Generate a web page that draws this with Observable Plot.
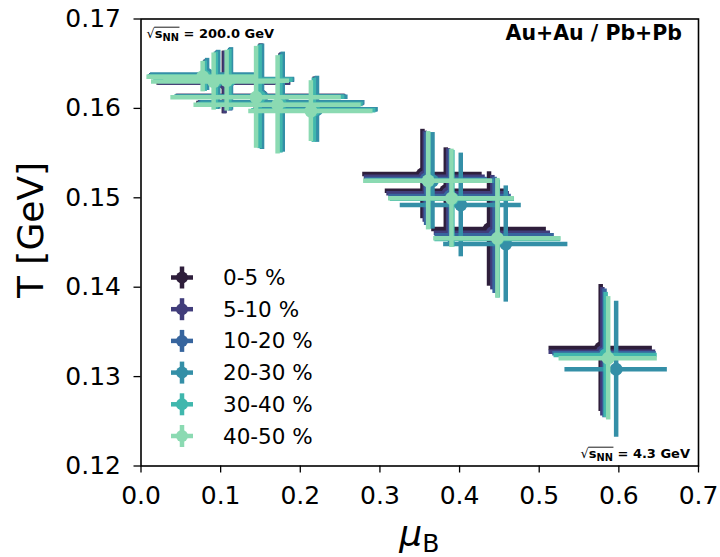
<!DOCTYPE html>
<html>
<head>
<meta charset="utf-8">
<script src="https://cdn.jsdelivr.net/npm/d3@7"></script>
<script src="https://cdn.jsdelivr.net/npm/@observablehq/plot@0.6"></script>
<style>
  html, body { margin: 0; padding: 0; background: #fff; }
  #chart svg { display: block; }
</style>
</head>
<body>
<div id="chart"></div>
<script>
// Chemical freeze-out parameters (mu_B, T) per centrality class,
// one entry per collision energy, from top RHIC energy down to 4.3 GeV.
const centralities = ["0-5 %", "5-10 %", "10-20 %", "20-30 %", "30-40 %", "40-50 %"];
const colors = ["#2e1e3b", "#413d7b", "#37659e", "#348fa7", "#40b7ad", "#8bdab2"];

const xTicks = [0.0, 0.1, 0.2, 0.3, 0.4, 0.5, 0.6, 0.7];
const yTicks = [0.12, 0.13, 0.14, 0.15, 0.16, 0.17];

const mu_0_5   = [0.081, 0.095, 0.104, 0.150, 0.175, 0.218, 0.3534, 0.3827, 0.4370, 0.5772];
const mu_5_10  = [0.082, 0.096, 0.105, 0.151, 0.176, 0.219, 0.3563, 0.3856, 0.4412, 0.5793];
const mu_10_20 = [0.082, 0.096, 0.112, 0.151, 0.177, 0.220, 0.3580, 0.3880, 0.4440, 0.5820];
const mu_20_30 = [0.083, 0.097, 0.113, 0.152, 0.178, 0.221, 0.3660, 0.4015, 0.4580, 0.5966];
const mu_30_40 = [0.080, 0.094, 0.111, 0.149, 0.175, 0.217, 0.3610, 0.3910, 0.4480, 0.5834];
const mu_40_50 = [0.0774, 0.0912, 0.1075, 0.1445, 0.1715, 0.2133, 0.3605, 0.3898, 0.4475, 0.5866];

const T_0_5   = [0.1637, 0.1631, 0.1629, 0.1614, 0.1606, 0.1599, 0.15266, 0.15079, 0.14651, 0.1332];
const T_5_10  = [0.1637, 0.1632, 0.1629, 0.1614, 0.1607, 0.1599, 0.15236, 0.15050, 0.14610, 0.13278];
const T_10_20 = [0.1637, 0.1632, 0.1632, 0.1613, 0.1607, 0.1599, 0.15210, 0.15020, 0.14580, 0.1326];
const T_20_30 = [0.1638, 0.1632, 0.1633, 0.1613, 0.1607, 0.1599, 0.15190, 0.14920, 0.14483, 0.13082];
const T_30_40 = [0.1636, 0.1631, 0.1632, 0.1613, 0.1605, 0.1598, 0.15190, 0.14990, 0.14540, 0.13242];
const T_40_50 = [0.16355, 0.1630, 0.1631, 0.16124, 0.1604, 0.1597, 0.15191, 0.14994, 0.14547, 0.13205];

const muErr_0_5   = [0.070, 0.078, 0.084, 0.106, 0.105, 0.076, 0.075, 0.076, 0.072, 0.0649];
const muErr_5_10  = [0.070, 0.078, 0.083, 0.106, 0.104, 0.076, 0.076, 0.077, 0.073, 0.0670];
const muErr_10_20 = [0.071, 0.078, 0.081, 0.107, 0.104, 0.077, 0.077, 0.077, 0.075, 0.0650];
const muErr_20_30 = [0.071, 0.079, 0.080, 0.108, 0.103, 0.077, 0.078, 0.076, 0.078, 0.0643];
const muErr_30_40 = [0.071, 0.078, 0.080, 0.107, 0.104, 0.078, 0.079, 0.078, 0.079, 0.0648];
const muErr_40_50 = [0.070, 0.078, 0.079, 0.107, 0.105, 0.078, 0.081, 0.079, 0.080, 0.0617];

const TErr_0_5   = [0.0017, 0.0032, 0.0035, 0.0058, 0.0055, 0.0036, 0.0050, 0.0048, 0.0064, 0.0071];
const TErr_5_10  = [0.0017, 0.0032, 0.0035, 0.0058, 0.0055, 0.0036, 0.0051, 0.0050, 0.0064, 0.0072];
const TErr_10_20 = [0.0017, 0.0032, 0.0035, 0.0058, 0.0055, 0.0036, 0.0052, 0.0052, 0.0065, 0.0072];
const TErr_20_30 = [0.0018, 0.0033, 0.0035, 0.0059, 0.0056, 0.0037, 0.0054, 0.0058, 0.0065, 0.0076];
const TErr_30_40 = [0.0017, 0.0032, 0.0034, 0.0058, 0.0055, 0.0036, 0.0054, 0.0054, 0.0066, 0.0070];
const TErr_40_50 = [0.0017, 0.0032, 0.0034, 0.0057, 0.0055, 0.0034, 0.0055, 0.0055, 0.0067, 0.0069];

const muSeries = [mu_0_5, mu_5_10, mu_10_20, mu_20_30, mu_30_40, mu_40_50];
const TSeries = [T_0_5, T_5_10, T_10_20, T_20_30, T_30_40, T_40_50];
const muErrSeries = [muErr_0_5, muErr_5_10, muErr_10_20, muErr_20_30, muErr_30_40, muErr_40_50];
const TErrSeries = [TErr_0_5, TErr_5_10, TErr_10_20, TErr_20_30, TErr_30_40, TErr_40_50];

const FONT = "DejaVu Sans, Liberation Sans, sans-serif";
const BAR_W = 4.5;
const DOT_R = 6.5;

// One table per centrality class
const tables = centralities.map((c, i) =>
  muSeries[i].map((m, g) => ({
    cent: c,
    mu: m,
    T: TSeries[i][g],
    muErr: muErrSeries[i][g],
    TErr: TErrSeries[i][g]
  }))
);

// Each class draws its horizontal bars, vertical bars, then its markers,
// so later classes sit on top of earlier ones.
const seriesMarks = tables.flatMap((rows, i) => [
  Plot.ruleY(rows, {y: "T", x1: d => d.mu - d.muErr, x2: d => d.mu + d.muErr,
    stroke: colors[i], strokeWidth: BAR_W}),
  Plot.ruleX(rows, {x: "mu", y1: d => d.T - d.TErr, y2: d => d.T + d.TErr,
    stroke: colors[i], strokeWidth: BAR_W}),
  Plot.dot(rows, {x: "mu", y: "T", r: DOT_R, fill: colors[i], stroke: "none"})
]);

const chart = Plot.plot({
  width: 720,
  height: 557,
  marginLeft: 140.5,
  marginRight: 22,
  marginTop: 18.5,
  marginBottom: 91.5,
  style: {fontFamily: FONT, background: "#fff", overflow: "visible"},
  x: {domain: [0, 0.7]},
  y: {domain: [0.12, 0.17]},
  marks: [
    ...seriesMarks,
    Plot.frame({stroke: "#000", strokeWidth: 1.6}),
    Plot.axisX({ticks: xTicks, tickFormat: d3.format(".1f"), tickSize: 7, tickPadding: 13,
      fontSize: 25, label: null, stroke: "#000", strokeWidth: 1.3, color: "#000"}),
    Plot.axisY({ticks: yTicks, tickFormat: d3.format(".2f"), tickSize: 7, tickPadding: 13,
      fontSize: 25, label: null, stroke: "#000", strokeWidth: 1.3, color: "#000"})
  ]
});

document.getElementById("chart").appendChild(chart);

const svg = d3.select(chart);
const [fx0, fx1] = chart.scale("x").range;
const [fyBottom, fyTop] = chart.scale("y").range;

// Axis titles
svg.append("text")
  .attr("transform", `translate(${fx0 - 108},${(fyTop + fyBottom) / 2 - 12}) rotate(-90)`)
  .attr("text-anchor", "middle")
  .attr("dominant-baseline", "middle")
  .attr("font-family", FONT)
  .attr("font-size", 36)
  .attr("fill", "#000")
  .text("T [GeV]");

const xl = svg.append("text")
  .attr("x", (fx0 + fx1) / 2)
  .attr("y", fyBottom + 80)
  .attr("text-anchor", "middle")
  .attr("font-family", FONT)
  .attr("fill", "#000");
xl.append("tspan").attr("font-size", 36).attr("font-style", "italic").text("μ");
xl.append("tspan").attr("font-size", 25).attr("dy", 6).text("B");

// Energy annotations with a radical over s_NN
function energyLabel(x, y, anchor, value) {
  const t = svg.append("text")
    .attr("x", x).attr("y", y)
    .attr("text-anchor", anchor)
    .attr("font-family", FONT)
    .attr("font-size", 13)
    .attr("fill", "#000");
  t.append("tspan").attr("font-weight", "normal").text("√");
  const s = t.append("tspan").attr("font-weight", "bold").text("s");
  const nn = t.append("tspan").attr("font-weight", "bold").attr("font-size", 9.8).attr("dy", 2.5).text("NN");
  t.append("tspan").attr("font-weight", "bold").attr("dy", -2.5).text(" = " + value);
  const b0 = s.node().getBBox();
  const b1 = nn.node().getBBox();
  svg.append("line")
    .attr("x1", b0.x - 0.5).attr("x2", b1.x + b1.width + 0.5)
    .attr("y1", b0.y + 1.2).attr("y2", b0.y + 1.2)
    .attr("stroke", "#000").attr("stroke-width", 0.9);
}
energyLabel(fx0 + 6, fyTop + 19.5, "start", "200.0 GeV");
energyLabel(fx1 - 8, fyBottom - 7.5, "end", "4.3 GeV");

svg.append("text")
  .attr("x", fx1 - 16)
  .attr("y", fyTop + 21.5)
  .attr("text-anchor", "end")
  .attr("font-family", FONT)
  .attr("font-weight", "bold")
  .attr("font-size", 20.5)
  .attr("fill", "#000")
  .text("Au+Au / Pb+Pb");

// Legend: errorbar glyph and class name for each centrality
const legend = svg.append("g").attr("transform", `translate(${fx0 + 41.5},${fyTop + 259})`);
centralities.forEach((c, i) => {
  const g = legend.append("g").attr("transform", `translate(0,${i * 31.7})`);
  g.append("line").attr("x1", -11).attr("x2", 11).attr("y1", 0).attr("y2", 0)
    .attr("stroke", colors[i]).attr("stroke-width", BAR_W);
  g.append("line").attr("x1", 0).attr("x2", 0).attr("y1", -11).attr("y2", 11)
    .attr("stroke", colors[i]).attr("stroke-width", BAR_W);
  g.append("circle").attr("r", 6).attr("fill", colors[i]);
  g.append("text")
    .attr("x", 41).attr("y", 0)
    .attr("text-anchor", "start")
    .attr("dominant-baseline", "central")
    .attr("font-family", FONT)
    .attr("font-size", 21.5)
    .attr("fill", "#000")
    .text(c);
});
</script>
</body>
</html>
